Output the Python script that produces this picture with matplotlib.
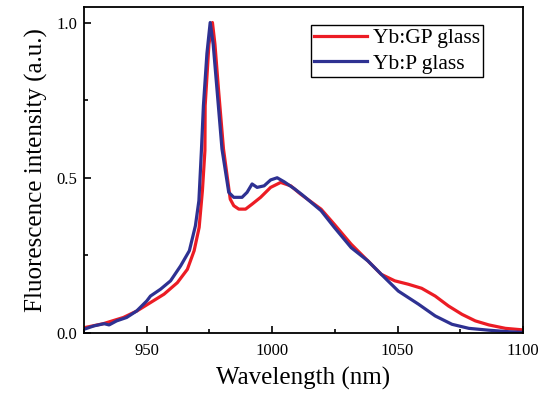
import matplotlib
matplotlib.use("Agg")
import matplotlib.pyplot as plt
from matplotlib.ticker import MultipleLocator

plt.rcParams['font.family'] = ['Liberation Serif', 'DejaVu Serif']

# Yb:GP glass (red)
gp_nm = [925, 932.7, 940.7, 946.1, 951.5, 956.9, 962.2, 966.2, 968.9, 970.9, 972.2, 973.2,
         973.3, 974.8, 976.2, 977.2, 978.6, 980.6, 983.3, 984.7, 986.7, 989.4, 992, 995.4,
         999.4, 1003.4, 1007.4, 1011.4, 1019.5, 1024.8, 1031.5, 1038.2, 1043.5, 1048.9,
         1054.3, 1059.6, 1065, 1070.3, 1075.7, 1081, 1086.4, 1093, 1100]
gp_val = [0.017, 0.03, 0.05, 0.071, 0.098, 0.125, 0.162, 0.205, 0.265, 0.34, 0.458, 0.587,
          0.732, 0.93, 1.0, 0.93, 0.786, 0.593, 0.431, 0.41, 0.399, 0.399, 0.415, 0.437,
          0.469, 0.485, 0.474, 0.447, 0.399, 0.35, 0.286, 0.232, 0.189, 0.168,
          0.157, 0.144, 0.119, 0.087, 0.06, 0.039, 0.026, 0.015, 0.01]

# Yb:P glass (blue)
p_nm = [925, 929, 933, 935, 938, 942, 946, 950, 951.5, 955.5, 959.5, 963.5, 967, 969.4,
        970.8, 971.8, 972.6, 974, 975.3, 976.5, 978, 980, 982.7, 984.7, 988, 990, 992, 994,
        996.8, 999.4, 1002, 1004.8, 1008.8, 1012, 1019.5, 1024.8, 1031.5, 1038.2, 1043.5,
        1050.3, 1058.3, 1065, 1071.7, 1078.4, 1086.4, 1094.5, 1100]
p_val = [0.012, 0.023, 0.03, 0.026, 0.039, 0.05, 0.071, 0.103, 0.119, 0.141, 0.168, 0.216,
         0.265, 0.345, 0.426, 0.587, 0.732, 0.9, 1.0, 0.93, 0.786, 0.593, 0.453, 0.437,
         0.437, 0.453, 0.48, 0.469, 0.474, 0.493, 0.50, 0.487, 0.465, 0.445, 0.394, 0.34,
         0.275, 0.232, 0.189, 0.135, 0.093, 0.055, 0.028, 0.015, 0.009, 0.004, 0.002]

fig = plt.figure(figsize=(5.38, 4.0), dpi=100)
ax = fig.add_axes([84/538, 1-333/400, 439/538, 326/400])

ax.plot(gp_nm, gp_val, color='#ec1c24', lw=2.3, label='Yb:GP glass')
ax.plot(p_nm, p_val, color='#2e3192', lw=2.3, label='Yb:P glass')

ax.set_xlim(925, 1100)
ax.set_ylim(0, 1.05)
ax.xaxis.set_major_locator(MultipleLocator(50))
ax.xaxis.set_minor_locator(MultipleLocator(25))
ax.yaxis.set_major_locator(MultipleLocator(0.5))
ax.yaxis.set_minor_locator(MultipleLocator(0.25))
ax.tick_params(which='both', direction='in', top=False, right=False, labelsize=12, width=1.2)
ax.tick_params(axis='x', pad=7)
ax.tick_params(axis='y', pad=5)
ax.tick_params(which='major', length=5)
ax.tick_params(which='minor', length=3)
for s in ax.spines.values():
    s.set_linewidth(1.3)

ax.set_xlabel('Wavelength (nm)', fontsize=18, labelpad=6)
ax.set_ylabel('Fluorescence intensity (a.u.)', fontsize=18, labelpad=6)

leg = ax.legend(loc='upper right', bbox_to_anchor=(0.91, 0.945), fontsize=15.5, fancybox=False,
                edgecolor='black', framealpha=1, handlelength=2.45, handletextpad=0.3,
                borderpad=0.15, labelspacing=0.25, borderaxespad=0)
leg.get_frame().set_linewidth(1.0)

fig.savefig('out.png', dpi=100)
